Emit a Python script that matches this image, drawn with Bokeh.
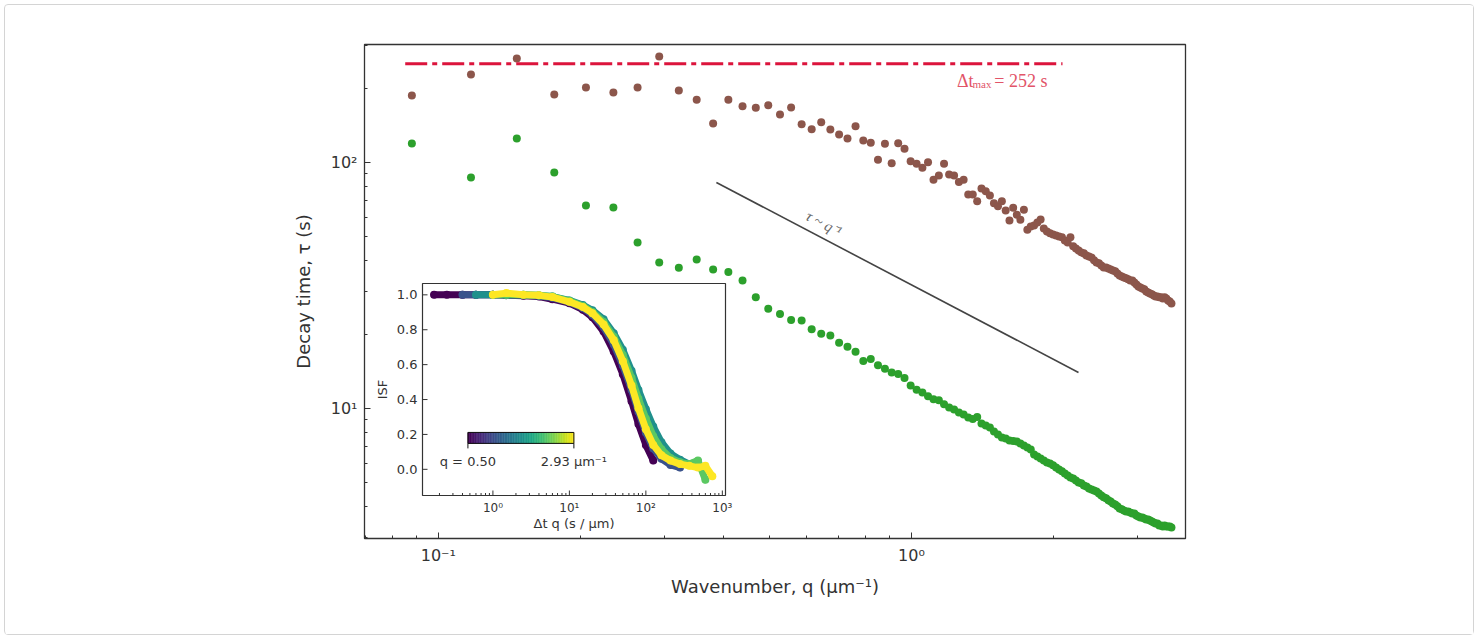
import math
import numpy as np
from bokeh.plotting import figure
from bokeh.models import Range1d, LogScale, LinearScale, CustomJSTickFormatter, FixedTicker
from bokeh.core.properties import value
from bokeh.palettes import Viridis256
from bokeh.embed import file_html
from bokeh.resources import INLINE

# ---------------- data ----------------
wavenumber = [0.0879, 0.1172, 0.1465, 0.1758, 0.2051, 0.2344, 0.2637, 0.2930, 0.3223, 0.3516,
              0.3809, 0.4102, 0.4395, 0.4688, 0.4981, 0.5274, 0.5567, 0.5860, 0.6153, 0.6446,
              0.6739, 0.7032, 0.7325, 0.7618, 0.7911, 0.8204, 0.8497, 0.8790, 0.9083, 0.9376,
              0.9669, 0.9962, 1.0255, 1.0548, 1.0841, 1.1134, 1.1427, 1.1720, 1.2013, 1.2306,
              1.2599, 1.2892, 1.3185, 1.3478, 1.3771, 1.4064, 1.4357, 1.4650, 1.4943, 1.5236,
              1.5529, 1.5822, 1.6115, 1.6408, 1.6701, 1.6994, 1.7287, 1.7580, 1.7873, 1.8166,
              1.8459, 1.8752, 1.9045, 1.9338, 1.9631, 1.9924, 2.0217, 2.0510, 2.0803, 2.1096,
              2.1389, 2.1682, 2.1975, 2.2268, 2.2561, 2.2854, 2.3147, 2.3440, 2.3733, 2.4026,
              2.4319, 2.4612, 2.4905, 2.5198, 2.5491, 2.5784, 2.6077, 2.6370, 2.6663, 2.6956,
              2.7249, 2.7542, 2.7835, 2.8128, 2.8421, 2.8714, 2.9007, 2.9300, 2.9593, 2.9886,
              3.0179, 3.0472, 3.0765, 3.1058, 3.1351, 3.1644, 3.1937, 3.2230, 3.2523, 3.2816,
              3.3109, 3.3402, 3.3695, 3.3988, 3.4281, 3.4574, 3.4867, 3.5160, 3.5453]

tau_brown = [187.3, 227.9, 264.7, 189.0, 201.8, 192.6, 201.8, 269.7, 196.2, 179.9,
             144.0, 179.9, 169.4, 166.9, 171.0, 156.7, 167.3, 143.1, 136.6, 145.8,
             136.2, 130.0, 125.2, 140.5, 122.9, 120.3, 102.6, 119.1, 99.3, 119.8,
             113.7, 101.2, 98.8, 95.2, 100.3, 85.1, 88.5, 98.8, 89.4, 88.5,
             83.2, 85.1, 74.1, 74.1, 69.6, 78.4, 76.4, 73.4, 68.3, 66.4,
             69.6, 63.8, 58.1, 65.5, 61.3, 58.5, 64.2, 53.3, 54.9,
             55.4, 57.0, 58.7, 53.9, 52.4, 51.5, 51.0, 50.5, 50.0, 49.6,
             48.2, 47.3, 49.6, 45.6, 44.7, 43.9, 43.1, 42.7, 41.9, 41.5,
             41.1, 40.0, 39.2, 38.9, 38.1, 37.4, 37.4, 37.1, 36.7, 36.4,
             36.1, 35.4, 34.7, 34.4, 34.1, 33.8, 33.5, 33.1, 33.1, 32.5,
             31.9, 31.3, 31.0, 30.7, 30.5, 29.9, 29.6, 29.3, 29.1, 28.8,
             28.5, 28.5, 28.3, 28.3, 28.0, 28.3, 28.0, 27.5, 27.2, 26.7]

tau_green = [119.5, 86.9, 125.2, 91.1, 66.9, 65.6, 47.3, 39.2, 37.3, 40.3,
             36.7, 35.9, 33.1, 28.3, 25.4, 24.2, 22.9, 22.8, 21.0, 20.1,
             19.8, 18.5, 17.8, 17.0, 15.6, 15.9, 15.0, 14.5, 14.0, 13.8,
             13.3, 12.4, 11.9, 11.6, 11.2, 10.9, 10.8, 10.4, 10.1, 9.91,
             9.63, 9.45, 9.19, 9.05, 9.22, 8.69, 8.53, 8.37, 8.06, 7.84,
             7.62, 7.55, 7.41, 7.38, 7.34, 7.21, 7.07, 6.94, 6.81,
             6.50, 6.38, 6.26, 6.14, 6.03, 5.98, 5.87, 5.76, 5.65, 5.55,
             5.44, 5.34, 5.24, 5.19, 5.10, 5.00, 4.96, 4.86, 4.82, 4.73,
             4.68, 4.64, 4.60, 4.51, 4.43, 4.35, 4.31, 4.23, 4.19, 4.11,
             4.07, 4.00, 3.92, 3.89, 3.85, 3.81, 3.81, 3.78, 3.74, 3.74,
             3.67, 3.64, 3.60, 3.60, 3.57, 3.54, 3.54, 3.50, 3.47, 3.44,
             3.41, 3.41, 3.34, 3.34, 3.31, 3.34, 3.31, 3.31, 3.31, 3.28]

dtmax = 252.0
dtmax_q = [0.0851, 2.086]
slope_q = [0.387, 2.255]
slope_tau = [82.9, 14.0]

x_major = [0.1, 1.0]
x_minor = [0.07, 0.08, 0.09, 0.2, 0.3, 0.4, 0.5, 0.6, 0.7, 0.8, 0.9, 2.0, 3.0]
y_major = [10.0, 100.0]
y_minor = [3, 4, 5, 6, 7, 8, 9, 20, 30, 40, 50, 60, 70, 80, 90, 200, 300]

# inset: intermediate scattering function vs dt*q
nan = float("nan")
isf_dtq = [0.17, 0.25, 0.4, 0.6, 1.0, 1.5, 2.5, 4.0, 6.0, 10.0, 15.0, 20.0, 28.0, 38.0,
           50.0, 65.0, 80.0, 100.0, 125.0, 160.0, 210.0, 280.0, 370.0, 480.0, 600.0, 740.0]
isf_q = [0.50, 1.11, 1.72, 2.32, 2.93]
isf_q050 = [1.0, 1.0, 1.0, 1.0, 1.0, 0.998, 0.995, 0.99, 0.975, 0.952, 0.915, 0.872, 0.79, 0.675,
            0.545, 0.39, 0.26, 0.14, 0.05, nan, nan, nan, nan, nan, nan, nan]
isf_q111 = [nan, nan, 1.0, 1.0, 1.0, 1.0, 0.998, 0.993, 0.983, 0.958, 0.925, 0.885, 0.815, 0.715,
            0.595, 0.455, 0.33, 0.21, 0.12, 0.06, 0.025, 0.01, nan, nan, nan, nan]
isf_q172 = [nan, nan, nan, 1.0, 1.0, 1.0, 1.0, 0.996, 0.99, 0.968, 0.942, 0.912, 0.86, 0.78,
            0.685, 0.565, 0.455, 0.345, 0.245, 0.155, 0.09, 0.055, 0.03, 0.045, nan, nan]
isf_q232 = [nan, nan, nan, nan, 1.0, 1.0, 1.0, 0.997, 0.99, 0.966, 0.936, 0.902, 0.845, 0.76,
            0.655, 0.525, 0.405, 0.29, 0.19, 0.115, 0.065, 0.04, 0.03, 0.05, -0.06, nan]
isf_q293 = [nan, nan, nan, nan, 1.0, 1.01, 1.0, 0.997, 0.987, 0.96, 0.93, 0.895, 0.83, 0.74,
            0.62, 0.48, 0.35, 0.23, 0.14, 0.08, 0.05, 0.03, 0.02, 0.01, 0.02, -0.04]
isf_curves = [isf_q050, isf_q111, isf_q172, isf_q232, isf_q293]
cbar_q = [0.50, 2.93]

x_ticks_inset = [1, 10, 100, 1000]
y_ticks_inset = [0.0, 0.2, 0.4, 0.6, 0.8, 1.0]

# ---------------- layout ----------------
OFF = 5                      # page offset of the canvas (margin + border)
W, H = 1470, 631
ML, MT = 364 - OFF, 44 - OFF
FW, FH = 821, 494
MR, MB = W - ML - FW, H - MT - FH

TXT = "#333333"
p = figure(width=W, height=H, x_axis_type="log", y_axis_type="log",
           x_range=Range1d(0.0698, 3.796), y_range=Range1d(2.96, 301.7),
           output_backend="svg", toolbar_location=None,
           min_border_left=ML, min_border_right=MR, min_border_top=MT, min_border_bottom=MB,
           styles={"margin": "4px", "border": "1px solid #d4d4d4", "border-radius": "4px"})
p.grid.visible = False
p.outline_line_color = TXT
p.outline_line_width = 1.3
p.background_fill_color = "white"
p.border_fill_color = "white"

fmt = CustomJSTickFormatter(code="""
const sup = {"-": "\\u207b", "0": "\\u2070", "1": "\\u00b9", "2": "\\u00b2", "3": "\\u00b3",
             "4": "\\u2074", "5": "\\u2075", "6": "\\u2076", "7": "\\u2077", "8": "\\u2078", "9": "\\u2079"};
const e = Math.round(Math.log10(tick));
return "10" + String(e).split("").map(c => sup[c]).join("");
""")
p.xaxis[0].ticker = FixedTicker(ticks=x_major, minor_ticks=x_minor)
p.yaxis[0].ticker = FixedTicker(ticks=y_major, minor_ticks=y_minor)
for ax in (p.xaxis[0], p.yaxis[0]):
    ax.formatter = fmt
    ax.major_tick_in = 6
    ax.major_tick_out = 0
    ax.minor_tick_in = 3
    ax.minor_tick_out = 0
    ax.axis_line_color = TXT
    ax.major_tick_line_color = TXT
    ax.minor_tick_line_color = TXT
    ax.major_label_text_font = "DejaVu Sans"
    ax.major_label_text_font_size = "16px"
    ax.major_label_text_color = TXT
    ax.axis_label_text_font = "DejaVu Sans"
    ax.axis_label_text_font_size = "18px"
    ax.axis_label_text_font_style = "normal"
    ax.axis_label_text_color = TXT
p.xaxis.axis_label = "Wavenumber, q (\u03bcm\u207b\u00b9)"
p.yaxis.axis_label = "Decay time, \u03c4 (s)"
p.xaxis.major_label_standoff = 7
p.xaxis.axis_label_standoff = 8
p.yaxis.major_label_standoff = 7
p.yaxis.axis_label_standoff = 14

# main data
p.scatter(wavenumber, tau_brown, size=8, color="#8c564b", line_color=None)
p.scatter(wavenumber, tau_green, size=8, color="#2ca02c", line_color=None)

# dt_max line and label
p.line(dtmax_q, [dtmax, dtmax], line_color="#dc143c", line_width=3, line_dash="22 5 5 5")
RED = "#e25468"
p.text(x=[dtmax_q[1]], y=[dtmax], text=["= %d s" % dtmax], text_align="right",
       text_baseline="alphabetic", x_offset=-15, y_offset=17, text_color=RED,
       text_font=value("Liberation Serif"), text_font_size="18px")
p.text(x=[dtmax_q[1]], y=[dtmax], text=["max"], text_align="right",
       text_baseline="alphabetic", x_offset=-71, y_offset=20, text_color=RED,
       text_font=value("Liberation Serif"), text_font_size="11px")
p.text(x=[dtmax_q[1]], y=[dtmax], text=["\u0394t"], text_align="right",
       text_baseline="alphabetic", x_offset=-89, y_offset=17, text_color=RED,
       text_font=value("Liberation Serif"), text_font_size="18px")

# tau ~ q^-1 guide
p.line(slope_q, slope_tau, line_color="#444444", line_width=1.6)
lq0, lq1 = math.log10(slope_q[0]), math.log10(slope_q[1])
lt0, lt1 = math.log10(slope_tau[0]), math.log10(slope_tau[1])
frac = 0.28
q_lab = 10 ** (lq0 + frac * (lq1 - lq0))
t_lab = 10 ** (lt0 + frac * (lt1 - lt0))
p.text(x=[q_lab], y=[t_lab], text=["\u03c4 ~ q\u207b\u00b9"], angle=-0.4835,
       text_align="center", text_baseline="middle", x_offset=6, y_offset=-12,
       text_color="#666666", text_font=value("Liberation Serif"),
       text_font_style="italic", text_font_size="15px")

# ---------------- inset (drawn in the main frame through extra ranges) ----------------
IX0, IX1 = 0.12, 1100.0
IY0, IY1 = -0.15, 1.065
px_l, px_r, px_t, px_b = 58, 361, 239, 451   # inset frame inside the main frame (px from top-left)
fx0, fx1 = px_l / FW, px_r / FW
fy0, fy1 = (FH - px_b) / FH, (FH - px_t) / FH
lx0, lx1 = math.log10(IX0), math.log10(IX1)
kx = (lx1 - lx0) / (fx1 - fx0)
ky = (IY1 - IY0) / (fy1 - fy0)
p.extra_x_ranges = {"ix": Range1d(10 ** (lx0 - fx0 * kx), 10 ** (lx1 + (1 - fx1) * kx))}
p.extra_x_scales = {"ix": LogScale()}
p.extra_y_ranges = {"iy": Range1d(IY0 - fy0 * ky, IY1 + (1 - fy1) * ky)}
p.extra_y_scales = {"iy": LinearScale()}
R = dict(x_range_name="ix", y_range_name="iy")
inset_w = px_r - px_l
inset_h = px_b - px_t
dec_per_px = (lx1 - lx0) / inset_w
y_per_px = (IY1 - IY0) / inset_h

p.quad(left=[IX0], right=[IX1], bottom=[IY0], top=[IY1], fill_color="white",
       line_color=None, **R)

for qv, curve in zip(isf_q, isf_curves):
    c = Viridis256[int(round((qv - cbar_q[0]) / (cbar_q[1] - cbar_q[0]) * 255))]
    p.line(isf_dtq, curve, line_color=c, line_width=7, line_cap="round", line_join="round", **R)
    p.scatter(isf_dtq, curve, size=8, color=c, line_color=None, **R)

# inset frame
p.quad(left=[IX0], right=[IX1], bottom=[IY0], top=[IY1], fill_color=None,
       line_color=TXT, line_width=1.2, **R)

# inset ticks
minor_x = [m * 10 ** k for k in (-1, 0, 1, 2) for m in range(2, 10) if IX0 < m * 10 ** k < IX1]
p.segment(x0=x_ticks_inset, y0=[IY0] * 4, x1=x_ticks_inset, y1=[IY0 + 5 * y_per_px] * 4,
          line_color=TXT, line_width=1, **R)
p.segment(x0=minor_x, y0=[IY0] * len(minor_x), x1=minor_x, y1=[IY0 + 2.5 * y_per_px] * len(minor_x),
          line_color=TXT, line_width=1, **R)
p.segment(x0=[IX0] * 6, y0=y_ticks_inset, x1=[IX0 * 10 ** (5 * dec_per_px)] * 6, y1=y_ticks_inset,
          line_color=TXT, line_width=1, **R)
sup = {"0": "\u2070", "1": "\u00b9", "2": "\u00b2", "3": "\u00b3"}
p.text(x=x_ticks_inset, y=[IY0] * 4, text=["10" + sup[str(int(round(math.log10(t))))] for t in x_ticks_inset],
       text_align="center", text_baseline="top", y_offset=5, text_color=TXT,
       text_font=value("DejaVu Sans"), text_font_size="12px", **R)
p.text(x=[IX0] * 6, y=y_ticks_inset, text=["%.1f" % t for t in y_ticks_inset],
       text_align="right", text_baseline="middle", x_offset=-5, text_color=TXT,
       text_font=value("DejaVu Sans"), text_font_size="13px", **R)
p.text(x=[10 ** ((lx0 + lx1) / 2)], y=[IY0], text=["\u0394t q (s / \u03bcm)"],
       text_align="center", text_baseline="middle", y_offset=28, text_color=TXT,
       text_font=value("DejaVu Sans"), text_font_size="13px", **R)
p.text(x=[IX0], y=[(IY0 + IY1) / 2], text=["ISF"], angle=math.pi / 2,
       text_align="center", text_baseline="middle", x_offset=-40, text_color=TXT,
       text_font=value("DejaVu Sans"), text_font_size="13px", **R)

# colour bar inside the inset
cb_x0, cb_x1 = 0.471, 11.45
cb_y0, cb_y1 = 0.1486, 0.2114
edges = np.logspace(math.log10(cb_x0), math.log10(cb_x1), 65)
p.quad(left=edges[:-1], right=edges[1:], bottom=[cb_y0] * 64, top=[cb_y1] * 64,
       fill_color=list(Viridis256[::4]), line_color=list(Viridis256[::4]), line_width=0.5, **R)
p.quad(left=[cb_x0], right=[cb_x1], bottom=[cb_y0], top=[cb_y1], fill_color=None,
       line_color="#111111", line_width=1, **R)
p.segment(x0=[cb_x0, cb_x1], y0=[cb_y0] * 2, x1=[cb_x0, cb_x1], y1=[cb_y0 - 5 * y_per_px] * 2,
          line_color="#111111", line_width=1, **R)
p.text(x=[cb_x0, cb_x1], y=[cb_y0] * 2,
       text=["q = %.2f" % cbar_q[0], "%.2f \u03bcm\u207b\u00b9" % cbar_q[1]],
       text_align="center", text_baseline="middle", y_offset=18, text_color=TXT,
       text_font=value("DejaVu Sans"), text_font_size="13px", **R)

open("out.html", "w").write(file_html(p, INLINE))
